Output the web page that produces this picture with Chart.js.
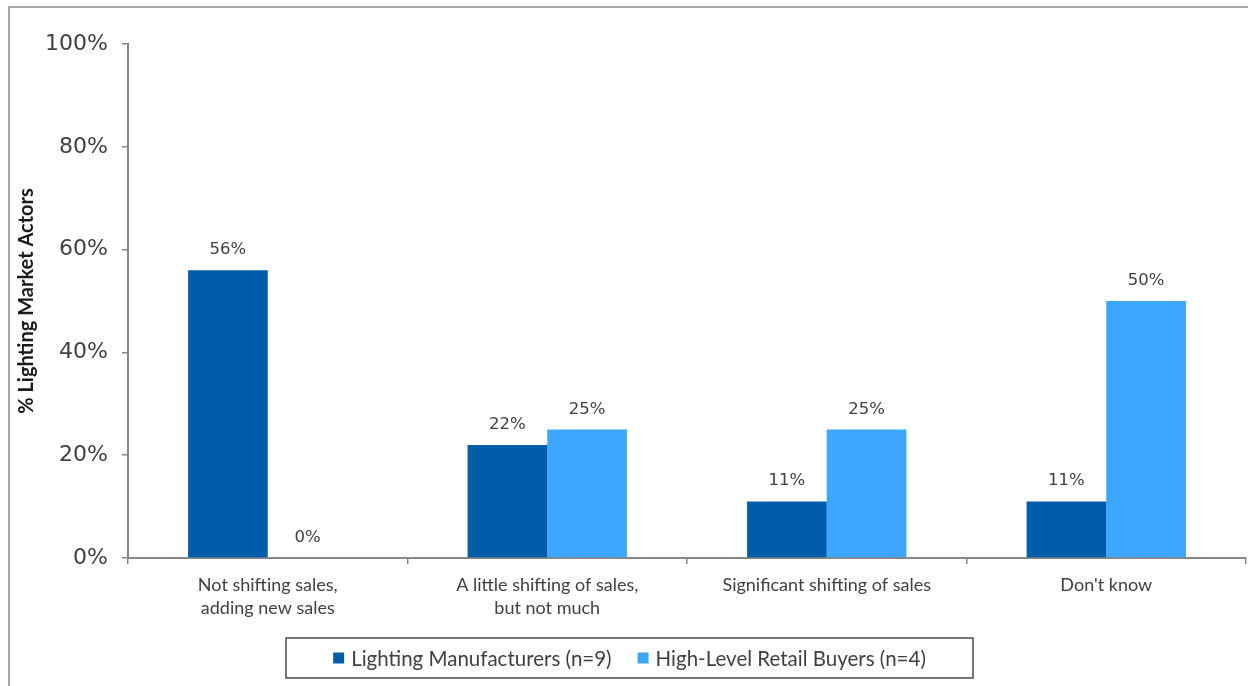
<!DOCTYPE html>
<html>
<head>
<meta charset="utf-8">
<script src="https://cdn.jsdelivr.net/npm/chart.js@4/dist/chart.umd.min.js"></script>
<style>
  html, body { margin: 0; padding: 0; background: #fff; }
  #wrap { position: relative; width: 1248px; height: 686px; }
</style>
</head>
<body>
<div id="wrap"><canvas id="shiftChart"></canvas></div>
<script>
// categories, series and axis ticks
const categories = [
  ['Not shifting sales,', 'adding new sales'],
  ['A little shifting of sales,', 'but not much'],
  'Significant shifting of sales',
  "Don't know"
];
const seriesNames = ['Lighting Manufacturers (n=9)', 'High-Level Retail Buyers (n=4)'];
const manufacturers = [56, 22, 11, 11];
const retailBuyers = [0, 25, 25, 50];
const yTicks = [0, 20, 40, 60, 80, 100];

const colors = ['#005DAA', '#3DA6FF'];
const textColor = '#404040';
const axisColor = '#868686';

// value labels above each bar
const valueLabels = {
  id: 'valueLabels',
  afterDatasetsDraw(chart) {
    const ctx = chart.ctx;
    ctx.save();
    ctx.font = '16.5px "DejaVu Sans"';
    ctx.fillStyle = textColor;
    ctx.textAlign = 'center';
    ctx.textBaseline = 'alphabetic';
    chart.data.datasets.forEach((ds, i) => {
      chart.getDatasetMeta(i).data.forEach((bar, j) => {
        const { x, y } = bar.getProps(['x', 'y'], true);
        ctx.fillText(ds.data[j] + '%', x, y - 16);
      });
    });
    ctx.restore();
  }
};

// outer frame and boxed legend
const frameAndLegend = {
  id: 'frameAndLegend',
  afterDraw(chart) {
    const ctx = chart.ctx;
    ctx.save();
    ctx.strokeStyle = '#a6a6a6';
    ctx.lineWidth = 2;
    ctx.beginPath();
    ctx.moveTo(9, 686);
    ctx.lineTo(9, 7);
    ctx.lineTo(1248, 7);
    ctx.stroke();

    const box = { x: 286, y: 638, w: 687, h: 40 };
    ctx.strokeStyle = '#4a4a4a';
    ctx.lineWidth = 1.5;
    ctx.strokeRect(box.x, box.y, box.w, box.h);

    ctx.font = '20.5px Lato';
    const sw = 11, gapText = 7, gapItems = 26;
    const widths = seriesNames.map(n => sw + gapText + ctx.measureText(n).width);
    const total = widths.reduce((a, b) => a + b, 0) + gapItems * (widths.length - 1);
    let x = box.x + (box.w - total) / 2;
    const cy = box.y + box.h / 2;
    ctx.textBaseline = 'middle';
    ctx.textAlign = 'left';
    seriesNames.forEach((n, i) => {
      ctx.fillStyle = colors[i];
      ctx.fillRect(x, cy - 5.5, sw, sw);
      ctx.fillStyle = textColor;
      ctx.fillText(n, x + sw + gapText, cy + 1);
      x += widths[i] + gapItems;
    });
    ctx.restore();
  }
};

new Chart(document.getElementById('shiftChart'), {
  type: 'bar',
  data: {
    labels: categories,
    datasets: [
      { label: seriesNames[0], data: manufacturers, backgroundColor: colors[0] },
      { label: seriesNames[1], data: retailBuyers, backgroundColor: colors[1] }
    ]
  },
  options: {
    responsive: true,
    maintainAspectRatio: false,
    animation: false,
    layout: { padding: { top: 44, left: 0, right: 2, bottom: 68 } },
    datasets: { bar: { categoryPercentage: 0.57, barPercentage: 1 } },
    plugins: {
      legend: { display: false },
      tooltip: { enabled: false }
    },
    scales: {
      x: {
        grid: { display: true, offset: true, drawOnChartArea: false, drawTicks: true, tickLength: 6, color: axisColor, lineWidth: 1.5 },
        border: { display: true, color: axisColor, width: 2 },
        ticks: { color: textColor, font: { family: 'Lato', size: 18, lineHeight: 1.28 }, padding: 10, maxRotation: 0, autoSkip: false },
        afterFit(scale) { scale.height = 60; }
      },
      y: {
        min: 0,
        max: 100,
        afterBuildTicks(scale) { scale.ticks = yTicks.map(v => ({ value: v })); },
        grid: { display: true, drawOnChartArea: false, drawTicks: true, tickLength: 6, color: axisColor, lineWidth: 1.5 },
        border: { display: true, color: axisColor, width: 2 },
        ticks: {
          color: textColor,
          font: { family: 'DejaVu Sans', size: 22 },
          padding: 14,
          callback: v => v + '%'
        },
        title: {
          display: true,
          text: '% Lighting Market Actors',
          color: '#1a1a1a',
          font: { family: 'Lato', size: 20, weight: 'bold' },
          padding: { top: 15, bottom: 0 }
        },
        afterFit(scale) { scale.width = 128; }
      }
    }
  },
  plugins: [valueLabels, frameAndLegend]
});
</script>
</body>
</html>
